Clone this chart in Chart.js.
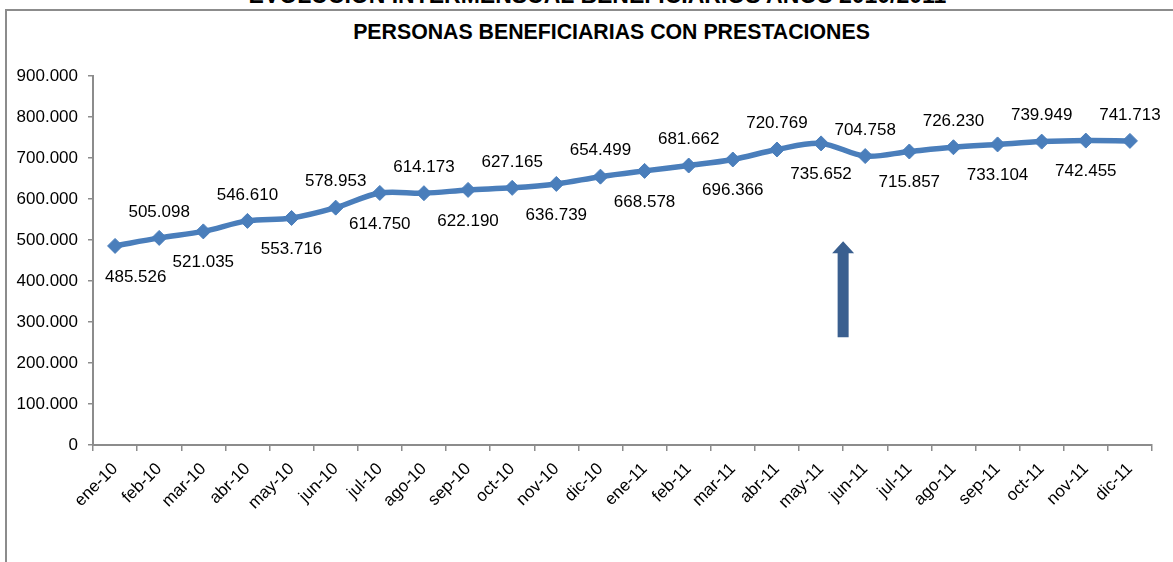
<!DOCTYPE html>
<html>
<head>
<meta charset="utf-8">
<script src="https://cdn.jsdelivr.net/npm/chart.js@4.4.1/dist/chart.umd.min.js"></script>
<style>
html,body{margin:0;padding:0;background:#fff;overflow:hidden;}
#wrap{position:relative;width:1173px;height:562px;overflow:hidden;background:#fff;}
#frame{position:absolute;left:5px;top:9px;width:1400px;height:800px;border-left:2px solid #8c8c8c;border-top:2px solid #8c8c8c;}
#title{position:absolute;left:0;width:1195px;top:-16px;text-align:center;font-weight:bold;font-size:23px;line-height:23px;font-family:"Liberation Sans",Arial,sans-serif;color:#000;white-space:nowrap;}
#sub{position:absolute;left:0;width:1223px;top:22px;text-align:center;font-weight:bold;font-size:21.3px;line-height:21.3px;font-family:"Liberation Sans",Arial,sans-serif;color:#000;white-space:nowrap;}
canvas{position:absolute;left:0;top:0;}
</style>
</head>
<body>
<div id="wrap">
  <div id="frame"></div>
  <div id="title">EVOLUCIÓN INTERMENSUAL BENEFICIARIOS AÑOS 2010/2011</div>
  <div id="sub">PERSONAS BENEFICIARIAS CON PRESTACIONES</div>
  <canvas id="c" width="1173" height="562"></canvas>
</div>
<script>
const categories = ['ene-10','feb-10','mar-10','abr-10','may-10','jun-10','jul-10','ago-10','sep-10','oct-10','nov-10','dic-10',
                    'ene-11','feb-11','mar-11','abr-11','may-11','jun-11','jul-11','ago-11','sep-11','oct-11','nov-11','dic-11'];
const beneficiarios = [485526,505098,521035,546610,553716,578953,614750,614173,622190,627165,636739,654499,
                       668578,681662,696366,720769,735652,704758,715857,726230,733104,739949,742455,741713];
const yMin = 0;
const yMax = 900000;
const yStep = 100000;
// arrow annotation (data coordinates): between may-11 and jun-11
const arrowIndex = 16.5;
const arrowFrom = 263000;
const arrowTo = 497000;

const FONT = '"Liberation Sans", Arial, sans-serif';
const fmt = v => v === 0 ? '0' : String(v).replace(/\B(?=(\d{3})+(?!\d))/g, '.');

const labelPlugin = {
  id: 'labels',
  afterDatasetsDraw(chart) {
    const ctx = chart.ctx;
    const meta = chart.getDatasetMeta(0);
    const xs = chart.scales.x, ys = chart.scales.y;
    // arrow
    const ax = xs.getPixelForValue(arrowIndex);
    const yTop = ys.getPixelForValue(arrowTo);
    const yBot = ys.getPixelForValue(arrowFrom);
    const headH = 12, headW = 11, shaftW = 5.5;
    ctx.save();
    ctx.fillStyle = '#3a5f8f';
    ctx.beginPath();
    ctx.moveTo(ax, yTop);
    ctx.lineTo(ax + headW, yTop + headH);
    ctx.lineTo(ax + shaftW, yTop + headH);
    ctx.lineTo(ax + shaftW, yBot);
    ctx.lineTo(ax - shaftW, yBot);
    ctx.lineTo(ax - shaftW, yTop + headH);
    ctx.lineTo(ax - headW, yTop + headH);
    ctx.closePath();
    ctx.fill();
    ctx.restore();
    // data labels
    ctx.save();
    ctx.font = '17px ' + FONT;
    ctx.fillStyle = '#000';
    ctx.textAlign = 'center';
    ctx.textBaseline = 'middle';
    meta.data.forEach((pt, i) => {
      const txt = fmt(beneficiarios[i]);
      const above = i % 2 === 1;
      const w = ctx.measureText(txt).width;
      let x = pt.x;
      const minX = chart.chartArea.left + 12 + w / 2;
      if (x < minX) x = minX;
      const y = pt.y + (above ? -26 : 31);
      ctx.fillText(txt, x, y);
    });
    ctx.restore();
  }
};

new Chart(document.getElementById('c'), {
  type: 'line',
  data: {
    labels: categories,
    datasets: [{
      data: beneficiarios,
      borderColor: '#4a7ebb',
      backgroundColor: '#4a7ebb',
      borderWidth: 5.5,
      tension: 0.33,
      pointStyle: 'rectRot',
      pointRadius: 7.5,
      pointBorderWidth: 1,
      pointBackgroundColor: '#4a7ebb',
      pointBorderColor: '#4a7ebb',
      fill: false
    }]
  },
  options: {
    responsive: false,
    animation: false,
    devicePixelRatio: 1,
    layout: { padding: { top: 76, right: 21, left: 0, bottom: 0 } },
    plugins: { legend: { display: false }, title: { display: false }, tooltip: { enabled: false } },
    scales: {
      x: {
        offset: true,
        grid: { offset: true, drawOnChartArea: false, drawTicks: true, tickLength: 6, color: '#8c8c8c', lineWidth: 1.5 },
        border: { color: '#8c8c8c', width: 2 },
        ticks: { autoSkip: false, maxRotation: 45, minRotation: 45, color: '#000', padding: 8, font: { size: 17, family: FONT } },
        afterFit(s) { s.height = 117; }
      },
      y: {
        min: yMin, max: yMax,
        grid: { drawOnChartArea: false, drawTicks: true, tickLength: 5, color: '#8c8c8c', lineWidth: 1.5 },
        border: { color: '#8c8c8c', width: 2 },
        ticks: { stepSize: yStep, color: '#000', padding: 10, font: { size: 17, family: FONT }, callback: v => fmt(v) },
        afterFit(s) { s.width = 93; }
      }
    }
  },
  plugins: [labelPlugin]
});
</script>
</body>
</html>
